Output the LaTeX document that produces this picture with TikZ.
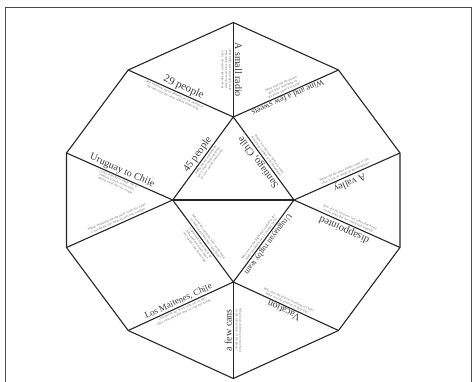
\documentclass[tikz,border=0pt]{standalone}
\usepackage{fontspec}
\setmainfont{Liberation Serif}
\tikzset{
  edge/.style={line width=1.1pt, draw=black!85, line join=round},
  frame/.style={line width=0.8pt, draw=black!70},
  big/.style={font=\fontsize{#1}{#1}\selectfont, text=black!78, inner sep=1.5pt, anchor=south},
  big/.default=10,
  small/.style={font=\fontsize{3.2}{3.7}\selectfont, text=black!62, inner sep=1.6pt, anchor=south, text width=#1, align=center},
  small/.default=55pt
}
\begin{document}
\begin{tikzpicture}[x=1pt,y=-1pt]
\useasboundingbox (0,0) rectangle (474,381);
\clip (0,0) rectangle (474,381);
\draw[frame] (5,7) rectangle (471,390);
% outer decagon
\coordinate (T) at (233.3,22.5);
\coordinate (UR) at (338.5,70);
\coordinate (RU) at (400,153);
\coordinate (RL) at (400,247.5);
\coordinate (LR) at (338.5,330.5);
\coordinate (B) at (233.3,378.5);
\coordinate (LL) at (128.2,330.5);
\coordinate (LLo) at (66.5,247.5);
\coordinate (LU) at (66.5,153);
\coordinate (UL) at (128.2,70);
% inner points
\coordinate (IT) at (233.3,117);
\coordinate (IL) at (172.7,200);
\coordinate (IR) at (294,200);
\coordinate (IB) at (233.3,282);
\draw[edge] (T) -- (UR) -- (RU) -- (RL) -- (LR) -- (B) -- (LL) -- (LLo) -- (LU) -- (UL) -- cycle;
\draw[edge] (IT) -- (IL) -- (IB) -- (IR) -- cycle;
\draw[edge] (IL) -- (IR);
\draw[edge] (T) -- (IT);
\draw[edge] (UL) -- (IT);
\draw[edge] (UR) -- (IT);
\draw[edge] (LU) -- (IL);
\draw[edge] (LLo) -- (IL);
\draw[edge] (RU) -- (IR);
\draw[edge] (RL) -- (IR);
\draw[edge] (LL) -- (IB);
\draw[edge] (B) -- (IB);
\draw[edge] (LR) -- (IB);
% labels: top vertical edge
\path (T) -- (IT) node[pos=0.5, big, rotate=-90] (a1) {A small radio};
\path (T) -- (IT) node[pos=0.5, small=52pt, rotate=90] (q1) {How did the survivors learn that the search for them had been called off after eight days?};
% UR - IT
\path (IT) -- (UR) node[pos=0.5, big=8.5, rotate=204.1] (a2) {Wine and a few sweets};
\path (IT) -- (UR) node[pos=0.5, small=50pt, rotate=24.1] (q2) {What food did the passengers have with them on the plane when it crashed?};
% UL - IT
\path (UL) -- (IT) node[pos=0.5, big=11, rotate=-24.6] (a3) {29 people};
\path (UL) -- (IT) node[pos=0.45, small=66pt, rotate=155.4] (q3) {How many people were still alive after the avalanche hit the fuselage on the mountain side?};
% LU - IL
\path (LU) -- (IL) node[pos=0.5, big, rotate=-23.9] (a4) {Uruguay to Chile};
\path (LU) -- (IL) node[pos=0.5, small=60pt, rotate=156.1] (q4) {Where was the plane flying from and to when it crashed in the Andes in October 1972?};
% IL - IT
\path (IL) -- (IT) node[pos=0.5, big=10.5, rotate=54.1] (a5) {45 people};
\path (IL) -- (IT) node[pos=0.5, small=55pt, rotate=234.1] (q5) {How many people were on board the plane when it left Montevideo for the flight?};
% IT - IR
\path (IT) -- (IR) node[pos=0.5, big, rotate=126.3] (a6) {Santiago, Chile};
\path (IT) -- (IR) node[pos=0.5, small=58pt, rotate=-53.7] (q6) {Where was the team flying to when their plane crashed in the mountains?};
% IR - RU
\path (IR) -- (RU) node[pos=0.5, big, rotate=203.9] (a7) {A valley};
\path (IR) -- (RU) node[pos=0.5, small=64pt, rotate=23.9] (q7) {Where did the plane finally come to rest after it lost its wings on the mountain?};
% IR - RL
\path (IR) -- (RL) node[pos=0.5, big=10.5, rotate=156.1] (a8) {disappointed};
\path (IR) -- (RL) node[pos=0.5, small=62pt, rotate=-23.9] (q8) {How did the survivors feel when they heard on the radio that the search had stopped?};
% IR - IB
\path (IB) -- (IR) node[pos=0.5, big=8, rotate=233.4] (a9) {Uruguayan rugby team};
\path (IB) -- (IR) node[pos=0.5, small=58pt, rotate=53.4] (q9) {Who was on the flight that crashed in the Andes mountains on 13 October 1972?};
% IL - IB
\path (IL) -- (IB) node[pos=0.5, small=55pt, rotate=126.2] (q10a) {How many days did the survivors spend stranded high up in the snowy mountains?};
\path (IL) -- (IB) node[pos=0.5, small=55pt, rotate=-53.8] (q10b) {What did the survivors melt on the metal to make water that they could drink?};
% IL - LLo
\path (LLo) -- (IL) node[pos=0.5, small=78pt, rotate=23.9] (q11) {Which mountains did the plane crash into while it was flying over them in very bad weather?};
% IB - LL
\path (LL) -- (IB) node[pos=0.5, big=9, rotate=24.6] (a12) {Los Maitenes, Chile};
\path (LL) -- (IB) node[pos=0.5, small=66pt, rotate=204.6] (q12) {Where did the two men find help after walking for ten days across the mountains?};
% IB - B
\path (IB) -- (B) node[pos=0.5, big, rotate=90] (a13) {a few cans};
\path (IB) -- (B) node[pos=0.5, small=58pt, rotate=-90] (q13) {What food did the survivors find in the tail section of the plane?};
% IB - LR
\path (IB) -- (LR) node[pos=0.5, big, rotate=155.4] (a14) {Vacation};
\path (IB) -- (LR) node[pos=0.5, small=64pt, rotate=-24.6] (q14) {Why were the players travelling to Chile? What was the purpose of their trip?};
\end{tikzpicture}
\end{document}
